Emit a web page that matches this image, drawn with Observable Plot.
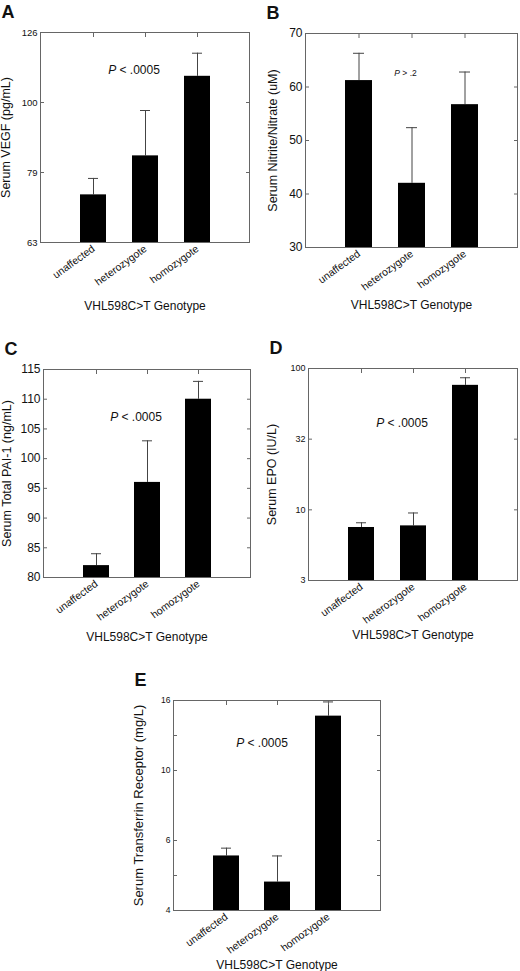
<!DOCTYPE html>
<html>
<head>
<meta charset="utf-8">
<script src="https://cdn.jsdelivr.net/npm/d3@7"></script>
<script src="https://cdn.jsdelivr.net/npm/@observablehq/plot@0.6"></script>
<style>
  body { margin: 0; background: white; }
  #fig { position: relative; width: 520px; height: 971px; overflow: hidden; background: white; }
  .panel { position: absolute; }
</style>
</head>
<body>
<div id="fig"></div>
<script>
const genotypes = ["unaffected", "heterozygote", "homozygote"]
const xTitle = "VHL598C>T Genotype"

// A: VEGF, log axis (ticks at 10^1.8 .. 10^2.1)
const vegfMean = [73.8, 83.9, 109]
const vegfUpper = [77.9, 97.4, 117.6]
const vegfTickExp = [1.8, 1.9, 2.0, 2.1]
const vegfTickLabels = ["63", "79", "100", "126"]

// B: nitrite/nitrate, linear
const noMean = [61.2, 42, 56.7]
const noUpper = [66.3, 52.4, 62.8]
const noTicks = [30, 40, 50, 60, 70]

// C: PAI-1, linear
const paiMean = [82, 96, 110]
const paiUpper = [84, 103, 113]
const paiTicks = [80, 85, 90, 95, 100, 105, 110, 115]

// D: EPO, log axis (half decades)
const epoMean = [7.5, 7.7, 76]
const epoUpper = [8.1, 9.5, 86]
const epoTickExp = [0.5, 1.0, 1.5, 2.0]
const epoTickLabels = ["3", "10", "32", "100"]

// E: transferrin receptor, log axis
const tfrMean = [5.7, 4.8, 14.3]
const tfrUpper = [6.0, 5.7, 15.7]
const tfrTickExp = [0.6, 0.8, 1.0, 1.2]
const tfrTickLabels = ["4", "6", "10", "16"]
const tfrMinorExp = [0.7, 1.1]

const pow10 = e => Math.pow(10, e)
const fig = d3.select('#fig')

function panel(o) {
  const data = genotypes.map((g, i) => ({genotype: g, mean: o.mean[i], upper: o.upper[i]}))
  const minor = o.minor || []
  const labels = o.labels || o.ticks.map(String)
  const marks = [
    Plot.ruleX(data, {x: 'genotype', y1: 'mean', y2: 'upper', stroke: '#444'}),
    Plot.tickY(data, {x: 'genotype', y: 'upper', stroke: '#444', insetLeft: 8, insetRight: 8}),
    Plot.barY(data, {x: 'genotype', y1: o.domain[0], y2: 'mean', fill: 'black'}),
    Plot.frame({stroke: '#666'}),
    // inward ticks on both sides, labels drawn as text
    Plot.axisY({ticks: o.ticks.concat(minor), tickSize: -4, tickFormat: () => '', stroke: '#666', label: null}),
    Plot.axisY({anchor: 'right', ticks: o.ticks.concat(minor), tickSize: -4, tickFormat: () => '', stroke: '#666', label: null}),
    Plot.text(o.ticks, {y: d => d, text: (d, i) => labels[i], frameAnchor: 'left', textAnchor: 'end', dx: -3, fontSize: o.tickFont}),
    Plot.axisX({anchor: 'top', tickSize: -4, tickFormat: () => '', stroke: '#666', label: null}),
    Plot.axisX({anchor: 'bottom', tickSize: 0, tickRotate: -36, tickPadding: 5, fontSize: 10.5, label: null}),
    Plot.text([o.yTitle], {frameAnchor: 'left', rotate: -90, textAnchor: 'middle', lineAnchor: 'top', dx: -o.yOffset, fontSize: o.yFont || 12.5}),
    Plot.text([xTitle], {frameAnchor: 'bottom', textAnchor: 'middle', lineAnchor: 'bottom', dy: o.xOffset, fontSize: 12}),
    Plot.text([o.pText], {frameAnchor: 'top', textAnchor: 'middle', dx: o.pdx, dy: o.pdy, fontSize: o.pFont}),
    Plot.text([o.letter], {frameAnchor: 'top-left', textAnchor: 'start', lineAnchor: 'top', dx: -39, dy: -27, fontSize: 18, fontWeight: 'bold'})
  ]
  const chart = Plot.plot({
    width: o.width,
    height: o.height,
    marginLeft: o.ml, marginRight: o.mr, marginTop: o.mt, marginBottom: o.mb,
    style: {fontFamily: "'Liberation Sans', Arial, sans-serif", background: 'transparent', color: '#111', overflow: 'visible'},
    x: {type: 'band', domain: genotypes, paddingInner: 0.5, paddingOuter: 0.75},
    y: {type: o.type, domain: o.domain},
    marks
  })

  // italic P in the p-value note
  d3.select(chart).selectAll('text')
    .filter(function () { return this.childElementCount === 0 && this.textContent === o.pText })
    .each(function () {
      const t = d3.select(this)
      t.text(null)
      t.append('tspan').attr('font-style', 'italic').text(o.pText.slice(0, 1))
      t.append('tspan').text(o.pText.slice(1))
    })

  fig.append('div').attr('class', 'panel')
    .style('left', o.left + 'px').style('top', o.top + 'px')
    .append(() => chart)
}

panel({
  letter: 'A', yTitle: 'Serum VEGF (pg/mL)', mean: vegfMean, upper: vegfUpper,
  type: 'log', domain: [pow10(1.8), pow10(2.1)], ticks: vegfTickExp.map(pow10), labels: vegfTickLabels,
  tickFont: 9.5, pText: 'P < .0005', pFont: 12, pdx: -11, pdy: 33,
  left: 0, top: 0, width: 260, height: 320, ml: 40, mr: 11, mt: 32, mb: 78, yOffset: 39, xOffset: 67
})

panel({
  letter: 'B', yTitle: 'Serum Nitrite/Nitrate (uM)', mean: noMean, upper: noUpper,
  type: 'linear', domain: [30, 70], ticks: noTicks,
  tickFont: 12, pText: 'P > .2', pFont: 8.5, pdx: -6, pdy: 36,
  left: 260, top: 0, width: 260, height: 320, ml: 45, mr: 3, mt: 33, mb: 73, yOffset: 37, xOffset: 61
})

panel({
  letter: 'C', yTitle: 'Serum Total PAI-1 (ng/mL)', mean: paiMean, upper: paiUpper,
  type: 'linear', domain: [80, 115], ticks: paiTicks,
  tickFont: 12, pText: 'P < .0005', pFont: 12, pdx: -11, pdy: 43,
  left: 0, top: 320, width: 260, height: 330, ml: 43, mr: 10, mt: 49, mb: 73, yOffset: 41, xOffset: 63
})

panel({
  letter: 'D', yTitle: 'Serum EPO (IU/L)', mean: epoMean, upper: epoUpper,
  type: 'log', domain: [pow10(0.5), pow10(2)], ticks: epoTickExp.map(pow10), labels: epoTickLabels,
  tickFont: 9, pText: 'P < .0005', pFont: 12, pdx: -11, pdy: 50,
  left: 260, top: 320, width: 260, height: 330, ml: 48, mr: 3, mt: 48, mb: 70, yOffset: 41, xOffset: 58
})

panel({
  letter: 'E', yTitle: 'Serum Transferrin Receptor (mg/L)', mean: tfrMean, upper: tfrUpper,
  type: 'log', domain: [pow10(0.6), pow10(1.2)], ticks: tfrTickExp.map(pow10), labels: tfrTickLabels,
  minor: tfrMinorExp.map(pow10), yFont: 13,
  tickFont: 8.5, pText: 'P < .0005', pFont: 12, pdx: -15, pdy: 38,
  left: 130, top: 640, width: 260, height: 331, ml: 43, mr: 10, mt: 60, mb: 61, yOffset: 40, xOffset: 58
})
</script>
</body>
</html>
